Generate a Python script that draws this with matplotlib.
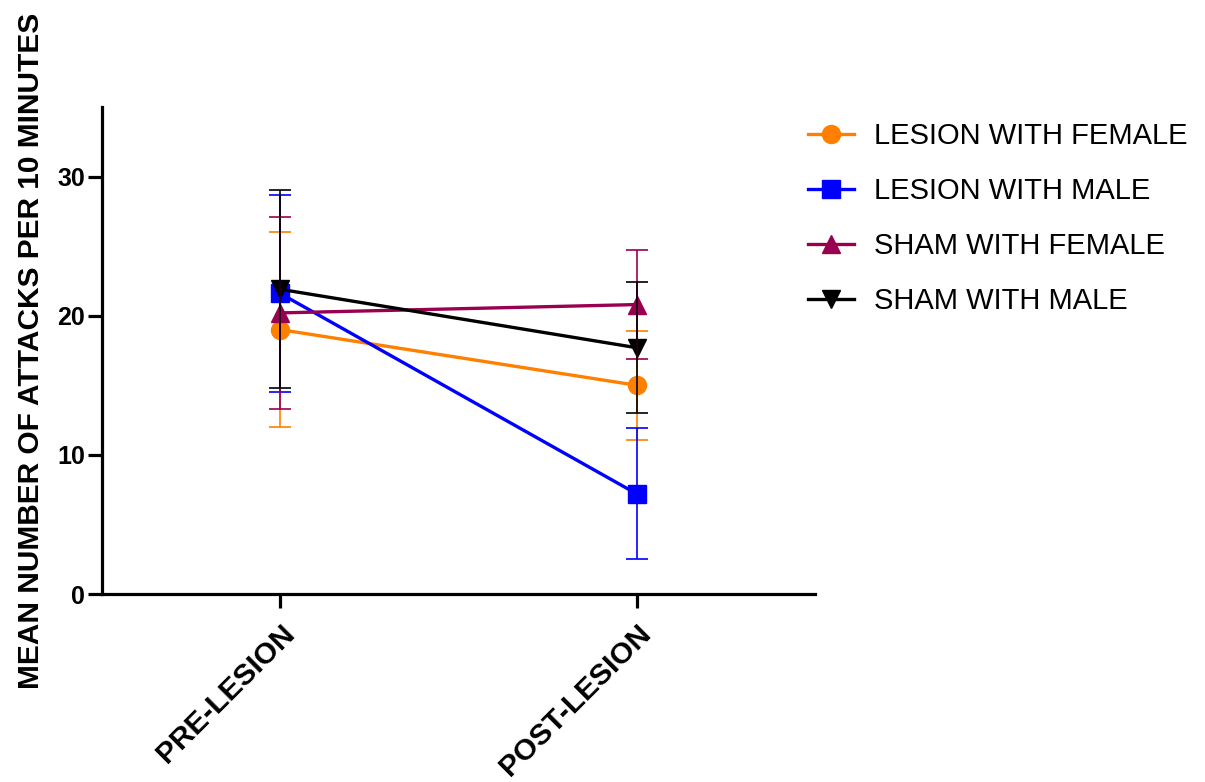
import matplotlib
matplotlib.use('Agg')
import matplotlib.pyplot as plt

plt.rcParams['font.family'] = ['Liberation Sans', 'DejaVu Sans']

# data
phases = ['PRE-LESION', 'POST-LESION']
groups = ['LESION WITH FEMALE', 'LESION WITH MALE', 'SHAM WITH FEMALE', 'SHAM WITH MALE']
means_lf = [19.0, 15.0]
err_lf = [7.0, 3.9]
means_lm = [21.6, 7.2]
err_lm = [7.1, 4.7]
means_sf = [20.2, 20.8]
err_sf = [6.9, 3.9]
means_sm = [21.9, 17.7]
err_sm = [7.1, 4.7]

colors = ['#FF8000', '#0000FF', '#990050', '#000000']
markers = ['o', 's', '^', 'v']
means = [means_lf, means_lm, means_sf, means_sm]
errs = [err_lf, err_lm, err_sf, err_sm]

fig = plt.figure(figsize=(12.05, 7.82), dpi=100)
ax = fig.add_axes([0.0846, 0.2404, 0.5917, 0.6228])

x = range(len(phases))
handles = []
for m, e, c, mk, lab in zip(means, errs, colors, markers, groups):
    h, = ax.plot(x, m, color=c, marker=mk, markersize=13, linewidth=2.4,
                 label=lab, zorder=2)
    handles.append(h)
# error bars sit on top of the markers
for m, e, c in zip(means, errs, colors):
    ax.errorbar(x, m, yerr=e, color=c, fmt='none', elinewidth=1.2,
                capsize=8, capthick=1.2, zorder=3)

ax.set_xlim(-0.5, 1.5)
ax.set_ylim(0, 35)
ax.set_yticks([0, 10, 20, 30])
ax.set_xticks(list(x))
ax.set_xticklabels(phases, rotation=45, ha='right', rotation_mode='anchor',
                   fontsize=21.5, fontweight='bold')
for lbl in ax.get_yticklabels():
    lbl.set_fontsize(18)
    lbl.set_fontweight('bold')
ax.set_ylabel('MEAN NUMBER OF ATTACKS PER 10 MINUTES', fontsize=21.5,
              fontweight='bold')
ax.yaxis.set_label_coords(-0.08, 0.5)

for s in ['top', 'right']:
    ax.spines[s].set_visible(False)
for s in ['left', 'bottom']:
    ax.spines[s].set_linewidth(2.3)
ax.tick_params(axis='both', width=2.3, length=10, direction='out')
ax.tick_params(axis='y', pad=2)
ax.tick_params(axis='x', pad=8)

fig.legend(handles=handles, loc='upper left', bbox_to_anchor=(0.649, 0.877),
           frameon=False, fontsize=21, handlelength=1.55, handletextpad=0.7,
           labelspacing=0.92)

fig.savefig('out.png', dpi=100)
